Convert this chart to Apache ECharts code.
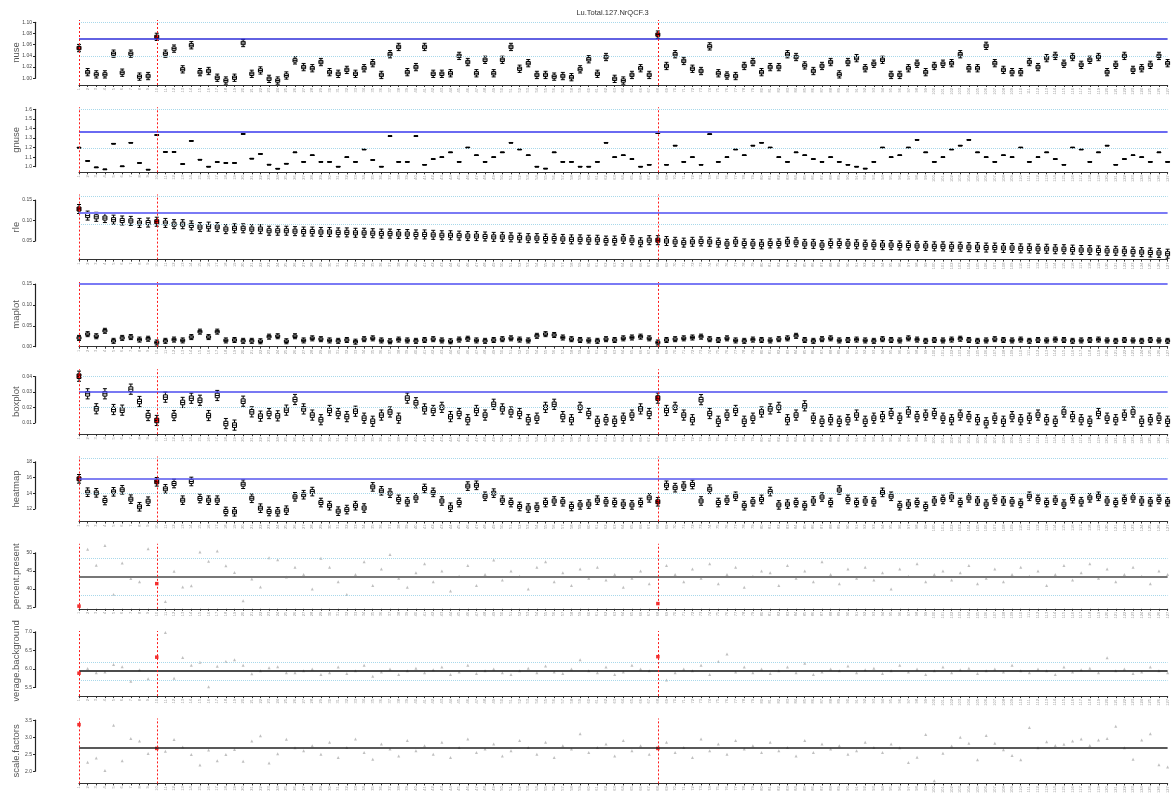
<!DOCTYPE html>
<html>
<head>
<meta charset="utf-8">
<script src="https://cdn.jsdelivr.net/npm/echarts@6/dist/echarts.min.js"></script>
<style>
html, body { margin: 0; padding: 0; background: #fff; }
#chart { width: 1176px; height: 798px; }
</style>
</head>
<body>
<div id="chart"></div>
<script>
// ---- data ----
const chartTitle = 'Lu.Total.127.NrQCF.3';
const sampleNames = Array.from({ length: 127 }, (_, i) => String(i + 1));
const flaggedIdx = [0, 9, 67];

const nuseMed = [
  1.054,1.011,1.007,1.007,1.044,1.010,1.044,1.003,1.004,1.074,
  1.044,1.053,1.016,1.059,1.011,1.013,1.001,0.996,1.001,1.063,
  1.008,1.014,0.999,0.996,1.005,1.032,1.020,1.018,1.029,1.011,
  1.008,1.015,1.008,1.018,1.027,1.006,1.043,1.056,1.011,1.020,
  1.056,1.008,1.008,1.009,1.040,1.029,1.009,1.033,1.009,1.033,
  1.056,1.017,1.027,1.006,1.006,1.003,1.004,1.002,1.016,1.034,
  1.008,1.038,0.999,0.996,1.006,1.018,1.006,1.078,1.022,1.043,
  1.031,1.017,1.013,1.057,1.009,1.005,1.004,1.022,1.029,1.011,
  1.020,1.020,1.043,1.038,1.023,1.013,1.022,1.029,1.007,1.029,
  1.036,1.018,1.026,1.033,1.006,1.006,1.018,1.026,1.011,1.022,
  1.026,1.027,1.043,1.018,1.018,1.058,1.027,1.015,1.011,1.011,
  1.029,1.020,1.036,1.040,1.026,1.038,1.024,1.033,1.038,1.011,
  1.024,1.040,1.015,1.018,1.024,1.040,1.027
];
const gnuseMed = [
  1.199,1.060,0.993,0.972,1.240,1.004,1.250,1.039,0.969,1.331,
  1.154,1.154,1.028,1.269,1.073,1.000,1.049,1.039,1.039,1.342,
  1.084,1.133,1.021,0.979,1.031,1.150,1.050,1.120,1.050,1.050,
  1.000,1.100,1.050,1.180,1.070,1.000,1.320,1.050,1.050,1.320,
  1.020,1.080,1.100,1.150,1.050,1.200,1.120,1.050,1.100,1.150,
  1.250,1.180,1.120,1.000,0.980,1.150,1.050,1.050,1.000,1.000,
  1.050,1.250,1.100,1.120,1.080,1.000,1.020,1.350,1.020,1.220,
  1.050,1.100,1.020,1.340,1.050,1.100,1.180,1.120,1.220,1.250,
  1.200,1.100,1.050,1.150,1.120,1.080,1.050,1.100,1.050,1.020,
  1.000,0.980,1.050,1.200,1.100,1.120,1.200,1.280,1.150,1.050,
  1.100,1.180,1.220,1.280,1.150,1.100,1.050,1.120,1.100,1.200,
  1.050,1.100,1.150,1.080,1.020,1.200,1.180,1.050,1.150,1.220,
  1.020,1.080,1.120,1.100,1.050,1.150,1.050
];
const rleMed = [
  0.128,0.112,0.109,0.106,0.102,0.100,0.099,0.094,0.095,0.097,
  0.094,0.091,0.091,0.088,0.084,0.085,0.084,0.079,0.081,0.081,
  0.079,0.079,0.075,0.075,0.075,0.074,0.073,0.073,0.072,0.072,
  0.071,0.071,0.070,0.070,0.069,0.068,0.068,0.067,0.067,0.066,
  0.066,0.065,0.064,0.064,0.063,0.062,0.062,0.061,0.060,0.060,
  0.059,0.058,0.057,0.057,0.056,0.056,0.055,0.054,0.054,0.053,
  0.053,0.051,0.051,0.055,0.052,0.047,0.052,0.052,0.050,0.048,
  0.046,0.048,0.049,0.048,0.046,0.043,0.048,0.044,0.043,0.042,
  0.044,0.044,0.048,0.047,0.043,0.043,0.040,0.044,0.044,0.043,
  0.042,0.041,0.041,0.040,0.040,0.039,0.039,0.038,0.038,0.037,
  0.037,0.036,0.036,0.035,0.035,0.034,0.034,0.033,0.033,0.032,
  0.032,0.031,0.031,0.030,0.030,0.029,0.028,0.028,0.027,0.026,
  0.026,0.025,0.024,0.023,0.022,0.021,0.019
];
const maplotMed = [
  0.021,0.030,0.025,0.038,0.014,0.021,0.023,0.017,0.019,0.010,
  0.014,0.017,0.015,0.023,0.036,0.023,0.036,0.015,0.016,0.014,
  0.014,0.013,0.024,0.025,0.013,0.025,0.015,0.020,0.018,0.015,
  0.014,0.016,0.012,0.018,0.020,0.015,0.013,0.017,0.015,0.014,
  0.016,0.018,0.015,0.013,0.017,0.019,0.015,0.014,0.016,0.018,
  0.020,0.017,0.015,0.026,0.030,0.028,0.022,0.018,0.016,0.015,
  0.014,0.018,0.016,0.020,0.022,0.024,0.020,0.010,0.016,0.018,
  0.020,0.022,0.024,0.018,0.016,0.020,0.015,0.014,0.017,0.016,
  0.015,0.018,0.020,0.026,0.016,0.014,0.018,0.020,0.015,0.016,
  0.017,0.015,0.014,0.018,0.016,0.015,0.020,0.017,0.014,0.016,
  0.015,0.017,0.019,0.016,0.014,0.015,0.018,0.016,0.015,0.017,
  0.014,0.016,0.015,0.017,0.016,0.014,0.015,0.016,0.017,0.015,
  0.014,0.016,0.015,0.014,0.016,0.015,0.014
];
const boxplotMed = [
  0.0402,0.0288,0.0191,0.0288,0.0186,0.0182,0.0318,0.0238,0.0147,0.0115,
  0.0266,0.0147,0.0232,0.0259,0.0246,0.0147,0.0277,0.0095,0.0085,0.0240,
  0.0171,0.0143,0.0160,0.0145,0.0182,0.0251,0.0190,0.0150,0.0120,0.0180,
  0.0160,0.0140,0.0175,0.0130,0.0110,0.0150,0.0170,0.0130,0.0260,0.0230,
  0.0190,0.0180,0.0200,0.0140,0.0160,0.0120,0.0180,0.0150,0.0220,0.0190,
  0.0170,0.0160,0.0120,0.0130,0.0200,0.0220,0.0140,0.0120,0.0200,0.0160,
  0.0110,0.0120,0.0110,0.0130,0.0150,0.0190,0.0160,0.0260,0.0180,0.0200,
  0.0150,0.0120,0.0250,0.0160,0.0110,0.0150,0.0180,0.0110,0.0130,0.0170,
  0.0190,0.0200,0.0120,0.0150,0.0210,0.0130,0.0110,0.0120,0.0110,0.0120,
  0.0150,0.0110,0.0130,0.0140,0.0160,0.0130,0.0170,0.0140,0.0150,0.0160,
  0.0130,0.0120,0.0150,0.0140,0.0120,0.0100,0.0130,0.0110,0.0140,0.0120,
  0.0130,0.0150,0.0120,0.0110,0.0170,0.0140,0.0120,0.0110,0.0160,0.0130,
  0.0120,0.0150,0.0170,0.0110,0.0120,0.0130,0.0110
];
const heatmapMed = [
  15.83,14.12,14.04,13.06,14.17,14.43,13.23,12.26,12.97,15.45,
  14.55,15.23,13.10,15.49,13.32,13.10,13.10,11.66,11.62,15.14,
  13.35,12.08,11.66,11.62,11.82,13.53,13.80,14.20,12.80,12.40,
  11.70,11.90,12.40,12.10,14.80,14.30,14.00,13.20,12.90,13.40,
  14.60,14.10,13.00,12.20,12.80,14.90,15.00,13.60,14.00,13.10,
  12.80,12.30,12.10,12.20,12.80,13.00,12.90,12.30,12.50,12.60,
  13.10,12.90,12.80,12.60,12.50,12.80,13.40,12.90,15.00,14.70,
  14.90,15.10,13.00,14.50,12.80,13.10,13.60,12.40,12.90,13.20,
  14.20,12.50,12.60,12.80,12.40,13.00,13.50,12.80,14.40,13.20,
  12.80,13.00,12.90,14.10,13.60,12.40,12.60,12.80,12.30,13.00,
  13.20,13.50,12.80,13.40,13.00,12.60,13.20,13.00,12.90,12.70,
  13.60,13.20,12.80,13.10,12.60,13.30,12.90,13.40,13.60,13.00,
  12.80,13.20,13.40,13.00,12.90,13.20,12.90
];
const percentPresent = [
  35.3,51.0,46.6,52.0,38.5,47.2,42.9,42.0,51.1,41.5,
  36.6,44.9,40.6,40.9,50.2,47.7,50.5,46.4,44.6,36.8,
  42.8,40.6,48.6,48.1,43.3,46.0,44.0,40.0,48.5,46.0,
  42.0,38.5,44.0,47.5,41.0,45.5,49.5,43.0,40.5,44.5,
  47.0,42.0,45.0,39.5,43.5,46.5,41.0,44.0,48.0,42.5,
  45.0,43.5,40.0,46.0,47.5,42.0,44.5,41.0,45.5,43.0,
  46.0,42.5,44.0,40.5,43.0,45.0,41.5,36.0,46.5,44.0,
  42.0,45.5,43.0,47.0,41.5,44.0,46.0,40.5,43.5,45.0,
  44.5,41.0,46.5,43.0,45.0,42.0,47.5,44.0,41.5,45.5,
  43.0,46.0,42.5,44.5,40.0,45.5,43.5,47.0,42.0,44.0,
  45.0,42.5,44.5,46.5,41.5,43.0,45.5,42.0,44.0,46.0,
  43.5,45.0,41.0,44.0,46.5,42.5,44.5,47.0,43.0,45.5,
  42.0,44.0,46.0,43.5,41.5,45.0,44.0
];
const averageBackground = [
  5.885,6.010,5.896,5.920,6.120,6.058,5.670,5.977,5.735,6.317,
  6.980,5.750,6.310,6.100,6.180,5.520,6.070,6.200,6.250,6.100,
  5.870,5.950,6.030,6.060,5.900,5.900,5.950,6.000,5.850,5.900,
  6.050,5.880,5.950,6.100,5.800,5.920,6.000,5.850,5.950,6.020,
  5.900,5.980,6.050,5.850,5.920,6.100,5.880,5.950,6.000,5.900,
  5.850,5.950,6.020,5.900,6.080,5.920,5.880,6.000,6.250,5.950,
  5.900,6.050,5.850,5.920,6.100,6.000,5.950,6.330,5.700,5.900,
  6.000,5.950,6.100,5.850,6.200,6.400,5.920,6.050,5.900,6.000,
  5.880,5.950,6.050,5.900,6.150,5.850,5.920,6.000,5.950,6.080,
  5.900,5.980,6.020,5.880,5.950,6.100,5.920,6.000,5.850,5.950,
  6.050,5.900,5.980,6.020,5.880,5.950,6.000,5.920,6.100,5.950,
  5.900,6.000,5.950,5.850,6.050,5.920,5.980,6.020,5.900,6.300,
  5.950,6.000,5.880,5.920,6.050,5.950,5.900
];
const scaleFactors = [
  3.370,2.265,2.390,2.020,3.350,2.310,2.960,2.890,2.520,2.670,
  2.590,2.930,2.710,2.490,2.180,2.620,2.310,2.490,2.640,2.290,
  2.890,3.040,2.240,2.510,2.940,2.690,2.600,2.750,2.500,2.850,
  2.400,2.700,2.950,2.550,2.350,2.800,2.650,2.450,2.900,2.600,
  2.750,2.500,2.850,2.400,2.700,2.950,2.550,2.650,2.800,2.450,
  2.600,2.900,2.700,2.500,2.850,2.400,2.750,2.650,3.100,2.550,
  2.700,2.800,2.450,2.900,2.600,2.750,2.500,2.670,2.850,2.550,
  2.700,2.400,2.950,2.600,2.800,2.500,2.900,2.650,2.750,2.550,
  2.850,2.600,2.700,2.450,2.900,2.550,2.800,2.650,2.750,2.500,
  2.600,2.850,2.700,2.550,2.800,2.690,2.256,2.410,3.080,1.720,
  2.530,2.740,3.000,2.820,2.335,3.050,2.820,2.630,2.460,2.335,
  3.285,2.690,2.865,2.756,2.794,2.890,2.950,2.756,2.920,2.960,
  3.320,2.690,2.350,2.920,3.100,2.190,2.120
];

// typical box half-height and whisker length, per panel (data units)
const nuseSpread = [0.003, 0.0035];
const gnuseSpread = [0.003, 0.0];
const rleSpread = [0.005, 0.006];
const maplotSpread = [0.003, 0.003];
const boxplotSpread = [0.0015, 0.0018];
const heatmapSpread = [0.25, 0.3];

// ---- layout ----
const PLOT_LEFT = 79, PLOT_RIGHT = 8.4;
const PANEL_TOP0 = 20, PANEL_PITCH = 87.3, PANEL_H = 65;
const FONT = 'Liberation Sans, Arial, Helvetica, sans-serif';

const panels = [
  { title: 'nuse', kind: 'box', med: nuseMed, spread: nuseSpread, range: [0.98804, 1.1041], ticks: [1.00, 1.10, 0.02], dec: 2,
    ref: 1.0696, refColor: '#2e2ed8', refWidth: 1.5, band: [1.100, 1.043] },
  { title: 'gnuse', kind: 'box', med: gnuseMed, spread: gnuseSpread, range: [0.9415, 1.6207], ticks: [1.0, 1.6, 0.1], dec: 1,
    ref: 1.366, refColor: '#6a6af2', refWidth: 2, band: [1.6, 1.192] },
  { title: 'rle', kind: 'box', med: rleMed, spread: rleSpread, range: [0.004634, 0.16317], ticks: [0.05, 0.15, 0.05], dec: 2,
    ref: 0.119, refColor: '#7a7af5', refWidth: 2, band: [0.160, 0.093] },
  { title: 'maplot', kind: 'box', med: maplotMed, spread: maplotSpread, range: [-0.0005, 0.155], ticks: [0.00, 0.15, 0.05], dec: 2,
    ref: 0.152, refColor: '#7a7af5', refWidth: 2, band: [] },
  { title: 'boxplot', kind: 'box', med: boxplotMed, spread: boxplotSpread, range: [0.00261, 0.04474], ticks: [0.01, 0.04, 0.01], dec: 2,
    ref: 0.0298, refColor: '#4b4bef', refWidth: 1.5, band: [0.0415, 0.0245] },
  { title: 'heatmap', kind: 'box', med: heatmapMed, spread: heatmapSpread, range: [10.38, 18.68], ticks: [12, 18, 2], dec: 0,
    ref: 15.9, refColor: '#5656ee', refWidth: 1.5, band: [18.5, 14.04] },
  { title: 'percent.present', kind: 'point', vals: percentPresent, range: [34.56, 52.48], ticks: [35, 50, 5], dec: 0,
    ref: 43.46, refColor: '#777777', refWidth: 2, band: [48.6, 38.4] },
  { title: 'average.background', kind: 'point', vals: averageBackground, range: [5.268, 7.019], ticks: [5.5, 7.0, 0.5], dec: 1,
    ref: 5.95, refColor: '#111111', refWidth: 1.5, band: [6.166, 5.69] },
  { title: 'scale.factors', kind: 'point', vals: scaleFactors, range: [1.641, 3.553], ticks: [2.0, 3.5, 0.5], dec: 1,
    ref: 2.69, refColor: '#222222', refWidth: 1.5, band: [] }
];

const grids = [], xAxes = [], yAxes = [], series = [], graphics = [];
const LABEL_FONT = '9.5px ' + FONT;

panels.forEach((p, k) => {
  const top = PANEL_TOP0 + PANEL_PITCH * k;
  const [ymin, ymax] = p.range;
  const toPx = v => top + (ymax - v) / (ymax - ymin) * PANEL_H;

  // main plotting area
  grids.push({ left: PLOT_LEFT, right: PLOT_RIGHT, top: top, height: PANEL_H });
  const gi = grids.length - 1;
  xAxes.push({
    type: 'category', gridIndex: gi, data: sampleNames, boundaryGap: false,
    axisLine: { show: true, lineStyle: { color: '#333', width: 1.2 } },
    axisTick: { show: true, length: 2, interval: 0, lineStyle: { color: '#333' } },
    axisLabel: { show: true, interval: 0, rotate: 90, fontSize: 4, color: '#9a9a9a', margin: 3, fontFamily: FONT },
    splitLine: { show: false }
  });
  yAxes.push({ type: 'value', gridIndex: gi, min: ymin, max: ymax, show: false, splitLine: { show: false } });

  // horizontal reference lines: solid threshold and dotted band
  const hLines = [{ yAxis: p.ref, lineStyle: { color: p.refColor, width: p.refWidth, type: 'solid' } }];
  p.band.forEach(b => hLines.push({ yAxis: b, lineStyle: { color: '#a8d8ea', width: 1, type: 'dotted' } }));

  if (p.kind === 'box') {
    const [bh, wh] = p.spread;
    const data = p.med.map((m, i) => {
      const v = [m - bh - wh, m - bh, m, m + bh, m + bh + wh];
      return flaggedIdx.includes(i) && k !== 1 && k !== 3
        ? { value: v, itemStyle: { color: '#e00000', borderColor: '#000' } }
        : v;
    });
    series.push({
      type: 'boxplot', xAxisIndex: gi, yAxisIndex: gi, data: data, boxWidth: [4, 4],
      itemStyle: { color: '#ffffff', borderColor: '#000', borderWidth: 1 },
      emphasis: { disabled: true }, animation: false, z: 3,
      markLine: { silent: true, symbol: 'none', label: { show: false }, animation: false, data: hLines }
    });
  } else {
    const data = p.vals.map((v, i) => flaggedIdx.includes(i)
      ? { value: v, symbol: 'rect', symbolSize: 3.5, itemStyle: { color: '#ee0000' } }
      : v);
    series.push({
      type: 'scatter', xAxisIndex: gi, yAxisIndex: gi, data: data, symbol: 'triangle', symbolSize: 3,
      itemStyle: { color: '#b0b0b0' }, animation: false, z: 3,
      markLine: { silent: true, symbol: 'none', label: { show: false }, animation: false, data: hLines }
    });
  }

  // red dotted verticals at the flagged samples
  series.push({
    type: 'scatter', xAxisIndex: gi, yAxisIndex: gi, data: [], silent: true, animation: false, z: 2,
    markLine: {
      silent: true, symbol: 'none', label: { show: false }, animation: false,
      lineStyle: { color: '#ff1a1a', width: 1, type: [2, 2] },
      data: flaggedIdx.map(i => ({ xAxis: i }))
    }
  });

  // R-style y axis: line spans only from first to last tick
  const [t0, t1, step] = p.ticks;
  const yTop = toPx(t1), yBot = toPx(t0);
  grids.push({ left: 35, width: 1, top: yTop, height: yBot - yTop });
  const ai = grids.length - 1;
  xAxes.push({ type: 'value', gridIndex: ai, show: false, min: 0, max: 1 });
  yAxes.push({
    type: 'value', gridIndex: ai, min: t0, max: t1, interval: step, position: 'left',
    axisLine: { show: true, lineStyle: { color: '#222', width: 1.2 } },
    axisTick: { show: true, length: 2, lineStyle: { color: '#222' } },
    axisLabel: { show: true, fontSize: 5, color: '#444', margin: 3, fontFamily: FONT,
      formatter: v => Number(v).toFixed(p.dec) },
    splitLine: { show: false }
  });

  // panel label
  graphics.push({
    type: 'text', x: 16, y: top + PANEL_H / 2, rotation: Math.PI / 2, z: 10,
    style: { text: p.title, font: LABEL_FONT, fill: '#555', align: 'center', verticalAlign: 'middle' }
  });
});

// the long "average.background" label runs past its figure region and is cut there
graphics.push({
  type: 'rect', z: 20, silent: true,
  shape: { x: 8, y: PANEL_TOP0 + PANEL_PITCH * 7 + 70.2, width: 16, height: 7 },
  style: { fill: '#ffffff' }
});

graphics.push({
  type: 'text', x: 612.5, y: 13, z: 10,
  style: { text: chartTitle, font: '7.5px ' + FONT, fill: '#333', align: 'center', verticalAlign: 'middle' }
});

const chart = echarts.init(document.getElementById('chart'), null, { renderer: 'canvas' });
chart.setOption({
  animation: false,
  backgroundColor: '#ffffff',
  grid: grids, xAxis: xAxes, yAxis: yAxes, series: series, graphic: graphics
});
</script>
</body>
</html>
